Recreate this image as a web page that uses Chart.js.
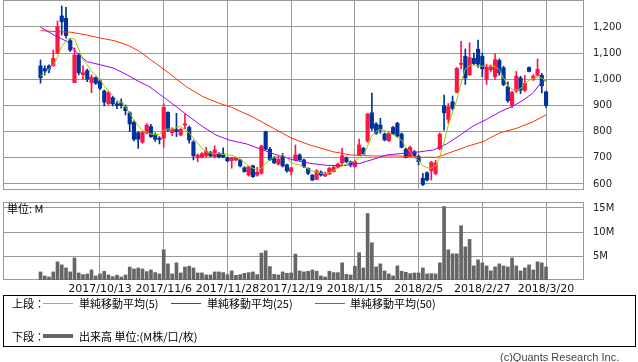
<!DOCTYPE html>
<html>
<head>
<meta charset="utf-8">
<script src="https://cdn.jsdelivr.net/npm/chart.js@4/dist/chart.umd.min.js"></script>
<style>
  body { margin: 0; background: #fff; width: 638px; height: 362px; position: relative; overflow: hidden; font-family: "Noto Sans CJK JP", sans-serif; }
  canvas { position: absolute; left: 0; }
  #price { top: 0; }
  #vol { top: 196px; }
  .t { position: absolute; font-size: 11px; line-height: 13px; color: #000; white-space: nowrap; }
  .ln { position: absolute; height: 1px; width: 30px; }
  #legend { position: absolute; left: 3px; top: 295px; width: 631px; height: 50px; border: 1px solid #000; }
  #copy { position: absolute; left: 500px; top: 351px; font-family: "Liberation Sans", sans-serif; font-size: 11px; color: #444; }
</style>
</head>
<body>
<canvas id="price" width="638" height="192"></canvas>
<canvas id="vol" width="638" height="100"></canvas>
<div class="t" style="left:7px;top:202px">単位: M</div>
<div id="legend">
  <div class="t" style="left:8px;top:1px">上段：</div>
  <div class="ln" style="left:39px;top:7px;background:#99cc00"></div>
  <div class="t" style="left:75px;top:1px">単純移動平均(5)</div>
  <div class="ln" style="left:167px;top:7px;background:#9900ff"></div>
  <div class="t" style="left:203px;top:1px">単純移動平均(25)</div>
  <div class="ln" style="left:311px;top:7px;background:#ff3300"></div>
  <div class="t" style="left:346px;top:1px">単純移動平均(50)</div>
  <div class="t" style="left:8px;top:34px">下段：</div>
  <div class="ln" style="left:39px;top:38px;height:4px;background:#666"></div>
  <div class="t" style="left:75px;top:34px">出来高 単位:(M株/口/枚)</div>
</div>
<div id="copy">(c)Quants Research Inc.</div>
<script>
// 日足データ (2017/9/22 - 2018/3/20)
const opens = [1051,1041,1051,1051,1099,1242,1233,1148,987,1093, 1018,1033,987,1006,994,955,906,930,906,910,
  894,872,836,796,760,794,819,787,775,775, 874,796,808,787,825,816,760,700,702,708,
  720,704,717,715,700,689,692,692,662,634, 669,634,641,800,733,698,676,704,673,647,
  692,711,692,660,634,618,645,631,638,647, 664,681,700,685,666,711,736,764,872,829,
  825,791,765,816,832,791,733,707,723,705, 622,643,650,640,734,899,847,914,950,1057,
  1088,1017,1080,1115,1088,1000,1036,1010,1072,1044, 972,900,955,1005,958,1045,1000,1015,1015,952];
const highs = [1074,1052,1055,1112,1223,1280,1275,1153,1120,1099, 1051,1039,1017,1010,998,959,955,935,915,925,
  902,876,840,800,800,830,828,795,781,906, 876,815,870,812,867,822,766,715,720,740,
  725,746,720,738,703,702,702,695,666,668, 672,664,748,802,740,705,711,717,676,664,
  749,715,695,662,636,655,650,645,664,668, 680,736,704,688,690,772,740,870,947,835,
  851,795,798,820,836,795,736,745,728,711, 641,646,686,690,795,940,908,936,1045,1145,
  1116,1140,1100,1150,1100,1058,1055,1098,1078,1050, 990,955,1030,1012,1015,1048,1018,1078,1023,955];
const lows = [985,1016,1024,1051,1099,1169,1157,1106,987,1017, 1000,991,949,980,960,898,904,898,888,890,
  864,800,765,736,755,791,778,763,753,740, 800,785,781,784,810,756,692,685,700,700,
  704,700,700,700,685,660,688,665,645,630, 625,630,638,730,690,678,672,665,645,634,
  688,690,662,636,613,616,630,628,636,645, 660,673,682,665,664,708,710,760,805,789,
  794,765,762,788,780,738,700,704,702,673, 594,612,615,635,730,806,832,883,948,1040,
  980,1015,1055,1045,1010,980,1030,1000,1015,975, 912,893,950,945,952,1028,995,1012,948,893];
const closes = [1006,1032,1039,1080,1201,1220,1167,1112,1093,1025, 1025,1000,1008,985,966,913,949,906,900,900,
  880,829,771,771,797,825,781,771,770,893, 806,809,800,809,830,768,708,710,716,725,
  707,730,704,703,688,700,700,669,647,666, 628,645,745,733,692,681,694,669,650,662,
  711,692,666,641,615,650,634,641,660,664, 676,708,685,673,685,749,715,867,813,794,
  806,768,794,791,783,740,702,740,707,685, 598,615,683,680,790,872,895,889,1042,1061,
  1005,1083,1060,1058,1040,1047,1048,1075,1025,980, 918,950,1012,958,985,1030,1012,1038,975,900];
// 出来高 (M)
const volumes = [1.68,0.84,0.63,1.68,3.78,3.15,2.52,1.68,4.6,1.47, 1.12,1.26,2.1,0.84,1.26,1.8,1.05,0.7,1.0,0.63,
  1.05,2.7,2.3,2.5,2.3,1.75,2.1,1.54,1.26,6.3, 3.36,1.26,3.57,1.47,2.7,2.87,2.52,1.47,1.47,1.05,
  1.05,1.68,1.68,1.54,1.12,1.89,0.98,1.12,1.4,1.54, 1.68,1.12,5.6,6.1,2.8,1.19,1.05,1.68,1.4,1.47,
  5.4,1.89,1.68,1.82,2.1,1.82,0.84,0.63,1.82,1.54, 1.54,3.57,1.19,1.05,2.87,5.7,2.52,13.85,7.76,2.73,
  3.36,1.89,1.26,0.84,2.94,1.82,1.61,1.33,1.47,1.47, 2.52,1.26,1.33,1.26,3.57,15.3,6.3,5.45,5.45,11.3,
  6.9,8.46,2.94,4.2,3.57,2.94,1.89,2.73,3.36,2.94, 2.73,4.6,2.94,1.89,2.52,3.15,2.1,3.78,3.57,2.73];
// 移動平均 (読み取り値)
const ma5 = [1013,1020,1040,1055,1086,1125,1148,1157,1154,1115, 1075,1055,1030,1017,997,975,955,938,920,910,
  895,870,845,822,805,796,791,788,790,806, 810,809,817,819,809,794,775,756,736,723,
  718,716,716,713,711,710,703,695,682,668, 660,653,660,679,693,703,708,711,700,681,
  676,673,666,658,650,645,641,639,643,650, 660,668,678,683,688,700,711,745,785,800,
  809,805,796,788,778,768,740,725,700,690, 670,662,660,668,704,760,825,875,921,985,
  1040,1052,1055,1050,1050,1055,1052,1048,1036,1005, 975,962,959,963,985,995,1004,1008,1005,991];
const ma25 = [[0,1199],[3.2,1169],[6.3,1144],[8.7,1099],[11,1067],[14.2,1055],[17.3,1042],[20.4,1017],[22.5,997],
  [25.6,972],[28.8,934],[31.9,896],[35,857],[38.2,819],[41.3,787],[44.4,768],[48.5,753],[51.7,734],[55.6,711],
  [59.5,692],[63.4,679],[67.4,671],[71.3,670],[75.2,679],[78.3,694],[81.5,711],[85.4,717],[89.3,723],[92.5,730],
  [95.6,753],[98.8,787],[101.9,822],[105,847],[108.2,876],[111.3,898],[113.7,921],[116,949],[118,991],[119,997]];
const ma50 = [[0,1186],[4,1182],[7.1,1180],[11,1169],[14.2,1157],[17.3,1148],[20.4,1131],[23.4,1106],[26,1074],
  [30.3,1023],[34.3,972],[38.2,934],[42.1,908],[45,893],[50.1,855],[54.8,813],[59.1,775],[63.4,749],[68.9,723],
  [72.9,711],[78.3,707],[84.6,707],[89.3,702],[93.3,702],[96.4,720],[100.3,743],[104.2,762],[108.2,796],
  [112.1,813],[116,838],[119,864]];
// 目盛
const gridIdx = [14, 29, 44, 59, 74, 89, 104, 119];
const tickDates = ['2017/10/13', '2017/11/6', '2017/11/28', '2017/12/19', '2018/1/15', '2018/2/5', '2018/2/27', '2018/3/20'];
const priceTicks = [600, 700, 800, 900, 1000, 1100, 1200];
const volTicks = [5, 10, 15];

const UP = '#ff1446', DOWN = '#003399', GRID = '#999999';
const X_MIN = -8.83, X_MAX = 127.7;

Chart.defaults.font.family = '"DejaVu Sans", sans-serif';

const frame = {
  id: 'frame',
  beforeDatasetsDraw(chart) {
    const { ctx, chartArea: a } = chart;
    ctx.save();
    ctx.strokeStyle = GRID;
    ctx.lineWidth = 1;
    ctx.strokeRect(a.left + 0.5, a.top + 0.5, a.right - a.left, a.bottom - a.top - 1);
    ctx.restore();
  }
};

const days = closes.map((c, i) => i);
const candleColors = days.map(i => closes[i] >= opens[i] ? UP : DOWN);
const maLine = (pts, color) => ({
  type: 'line', data: pts, borderColor: color, borderWidth: 1,
  pointRadius: 0, tension: 0, fill: false
});

// no edge padding from tick labels, so the plot fills its box
const noPad = s => { s.paddingTop = 0; s.paddingBottom = 0; s.paddingLeft = 0; s.paddingRight = 0; };

const xScale = (showLabels) => ({
  type: 'linear', min: X_MIN, max: X_MAX, offset: false,
  afterBuildTicks: s => { s.ticks = gridIdx.map(v => ({ value: v })); },
  ticks: {
    display: showLabels, autoSkip: false, maxRotation: 0, padding: 3,
    color: '#111', font: { size: 11 },
    callback: v => tickDates[gridIdx.indexOf(v)]
  },
  grid: { color: GRID, drawTicks: false, offset: false },
  border: { display: false },
  afterFit: s => { s.height = showLabels ? 16 : 0; noPad(s); }
});

const yScale = (min, max, ticks, fmt) => ({
  position: 'right', min, max,
  afterBuildTicks: s => { s.ticks = ticks.map(v => ({ value: v })); },
  ticks: { padding: 10, color: '#222', font: { size: 10 }, callback: fmt },
  grid: { color: GRID, drawTicks: false },
  border: { display: false },
  afterFit: s => { s.width = 55; noPad(s); }
});

new Chart(document.getElementById('price'), {
  type: 'bar',
  data: {
    datasets: [
      maLine(ma5.map((v, i) => ({ x: i, y: v })), '#99cc00'),
      maLine(ma25.map(p => ({ x: p[0], y: p[1] })), '#9900ff'),
      maLine(ma50.map(p => ({ x: p[0], y: p[1] })), '#ff3300'),
      {
        data: days.map(i => ({ x: i, y: [opens[i], closes[i]] })),
        backgroundColor: candleColors, barThickness: 3.5, minBarLength: 1, grouped: false
      },
      {
        data: days.map(i => ({ x: i, y: [lows[i], highs[i]] })),
        backgroundColor: candleColors, barThickness: 1, grouped: false
      }
    ]
  },
  options: {
    responsive: false, animation: false, devicePixelRatio: 1,
    layout: { padding: { left: 3, top: 0, right: 0, bottom: 2 } },
    plugins: { legend: { display: false }, tooltip: { enabled: false } },
    scales: {
      x: xScale(false),
      y: yScale(577, 1303, priceTicks, v => v.toLocaleString('en-US'))
    }
  },
  plugins: [frame]
});

new Chart(document.getElementById('vol'), {
  type: 'bar',
  data: {
    datasets: [{
      data: days.map(i => ({ x: i, y: volumes[i] })),
      backgroundColor: '#666666', barThickness: 3
    }]
  },
  options: {
    responsive: false, animation: false, devicePixelRatio: 1,
    layout: { padding: { left: 3, top: 6, right: 0, bottom: 0 } },
    plugins: { legend: { display: false }, tooltip: { enabled: false } },
    scales: {
      x: xScale(true),
      y: yScale(0, 16.25, volTicks, v => v + 'M')
    }
  },
  plugins: [frame]
});
</script>
</body>
</html>
